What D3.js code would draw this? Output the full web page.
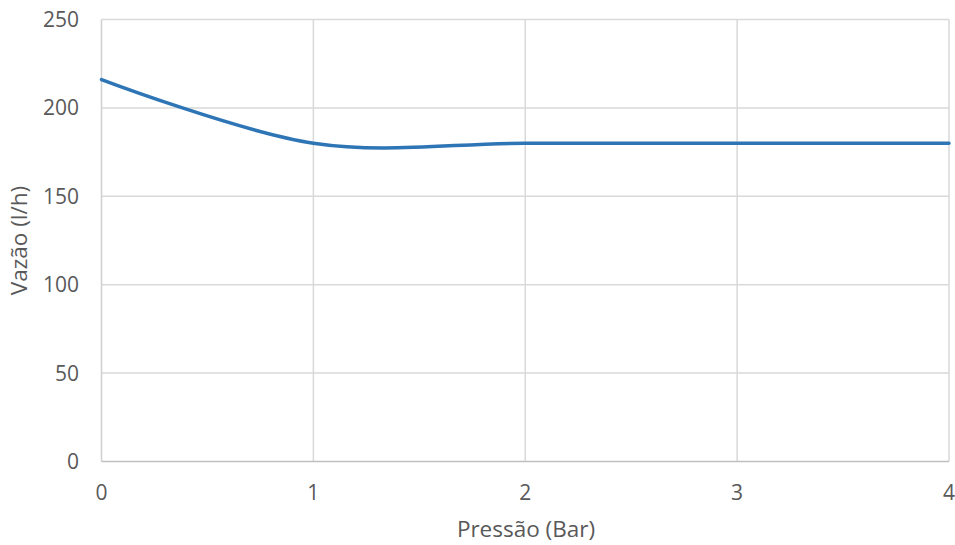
<!DOCTYPE html>
<html><head><meta charset="utf-8">
<script src="https://cdn.jsdelivr.net/npm/d3@7"></script>
<style>html,body{margin:0;padding:0;background:#fff;}</style>
</head><body>
<svg id="c" width="955" height="545"></svg>
<script>
const pressao = [0, 1, 2, 3, 4];
const vazao = [216, 180, 180, 180, 180];
const xTicks = [0, 1, 2, 3, 4];
const yTicks = [0, 50, 100, 150, 200, 250];
const xTitle = "Pressão (Bar)";
const yTitle = "Vazão (l/h)";

const svg = d3.select("#c");
const font = "'Open Sans', sans-serif";
const x = d3.scaleLinear().domain([0, 4]).range([101.5, 949]);
const y = d3.scaleLinear().domain([0, 250]).range([461.5, 19.5]);

// gridlines
svg.append("g").selectAll("line.h").data(yTicks.filter(d => d > 0)).join("line")
  .attr("x1", x(0)).attr("x2", x(4)).attr("y1", d => y(d)).attr("y2", d => y(d))
  .attr("stroke", "#d9d9d9").attr("stroke-width", 1.5);
svg.append("g").selectAll("line.v").data(xTicks.filter(d => d > 0)).join("line")
  .attr("x1", d => x(d)).attr("x2", d => x(d)).attr("y1", y(0)).attr("y2", y(250))
  .attr("stroke", "#d9d9d9").attr("stroke-width", 1.5);
// axes lines
svg.append("line").attr("x1", x(0)).attr("x2", x(0)).attr("y1", y(0)).attr("y2", y(250))
  .attr("stroke", "#d0d0d0").attr("stroke-width", 1.5);
svg.append("line").attr("x1", x(0)).attr("x2", x(4)).attr("y1", y(0)).attr("y2", y(0))
  .attr("stroke", "#bfbfbf").attr("stroke-width", 1.5);

// tick labels
svg.append("g").selectAll("text").data(yTicks).join("text")
  .attr("x", 79).attr("y", d => y(d)).attr("dy", "0.36em").attr("text-anchor", "end")
  .attr("font-family", font).attr("font-size", 21).attr("fill", "#595959").text(d => d);
svg.append("g").selectAll("text").data(xTicks).join("text")
  .attr("x", d => x(d)).attr("y", 500).attr("text-anchor", "middle")
  .attr("font-family", font).attr("font-size", 21).attr("fill", "#595959").text(d => d);

// titles
svg.append("text").attr("x", 526).attr("y", 537).attr("text-anchor", "middle")
  .attr("font-family", font).attr("font-size", 22.5).attr("fill", "#595959").text(xTitle);
svg.append("text").attr("transform", `translate(27,${y(125)}) rotate(-90)`).attr("text-anchor", "middle")
  .attr("font-family", font).attr("font-size", 22.5).attr("fill", "#595959").text(yTitle);

// line
const line = d3.line().x((d, i) => x(pressao[i])).y(d => y(d)).curve(d3.curveCardinal.tension(0));
svg.append("path").datum(vazao).attr("d", line).attr("fill", "none")
  .attr("stroke", "#2E75B6").attr("stroke-width", 3.5).attr("stroke-linecap", "round");
</script>
</body></html>
